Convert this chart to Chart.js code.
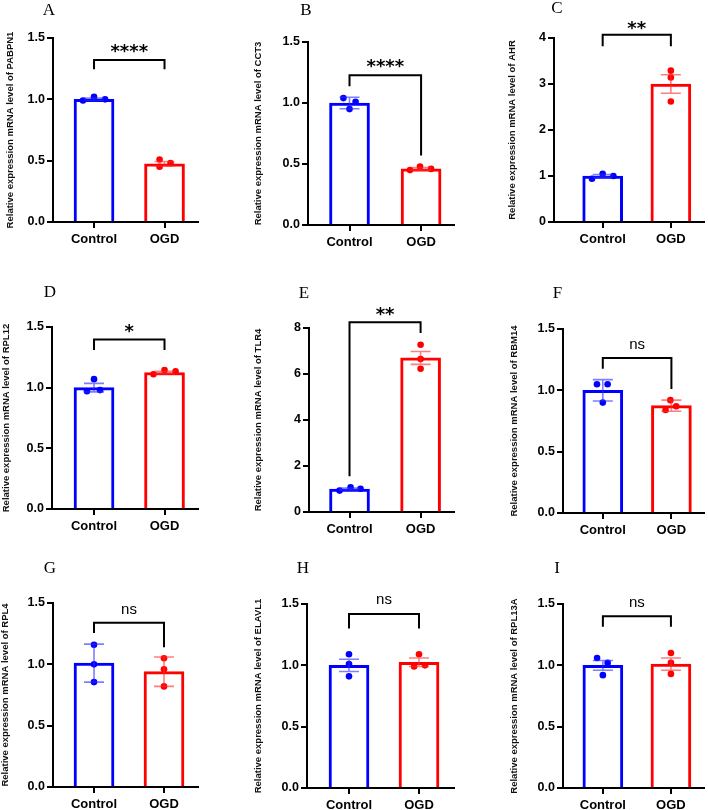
<!DOCTYPE html>
<html>
<head>
<meta charset="utf-8">
<script src="https://cdn.jsdelivr.net/npm/chart.js@4.4.1/dist/chart.umd.min.js"></script>
<style>
  html, body { margin: 0; padding: 0; background: #fff; overflow: hidden; }
  #grid { position: relative; width: 708px; height: 810px; }
  .cell { position: absolute; width: 236px; height: 270px; }
</style>
</head>
<body>
<div id="grid"></div>
<script>
// values
const panelLetters = ['A', 'B', 'C', 'D', 'E', 'F', 'G', 'H', 'I'];
const genes = ['PABPN1', 'CCT3', 'AHR', 'RPL12', 'TLR4', 'RBM14', 'RPL4', 'ELAVL1', 'RPL13A'];
const categories = ['Control', 'OGD'];
const controlMean = [1.0, 1.0, 1.0, 1.0, 1.0, 1.0, 1.01, 1.0, 1.0];
const ogdMean = [0.475, 0.46, 3.0, 1.125, 6.7, 0.875, 0.94, 1.025, 1.01];
const controlErr = [0.01, 0.047, 0.03, 0.035, 0.04, 0.087, 0.155, 0.05, 0.04];
const ogdErr = [0.018, 0.01, 0.2, 0.01, 0.28, 0.045, 0.12, 0.035, 0.05];
const controlPoints = [
  [0.99, 1.02, 1.0], [1.04, 1.01, 0.95], [0.94, 1.05, 1.0],
  [1.07, 0.97, 0.98], [0.93, 1.07, 1.01], [1.05, 1.05, 0.9],
  [1.16, 1.0, 0.855], [1.09, 1.01, 0.91], [1.06, 1.02, 0.92]
];
const ogdPoints = [
  [0.51, 0.45, 0.48], [0.45, 0.48, 0.46], [3.29, 3.14, 2.62],
  [1.11, 1.145, 1.135], [7.27, 6.65, 6.23], [0.92, 0.84, 0.87],
  [1.05, 0.96, 0.82], [1.09, 0.99, 1.0], [1.10, 1.02, 0.93]
];
const yMax = [1.5, 1.5, 4, 1.5, 8, 1.5, 1.5, 1.5, 1.5];
const yStep = [0.5, 0.5, 1, 0.5, 2, 0.5, 0.5, 0.5, 0.5];
const sigLabels = ['****', '****', '**', '*', '**', 'ns', 'ns', 'ns', 'ns'];
const bracketTop = [1.32, 1.227, 4.07, 1.396, 8.25, 1.263, 1.338, 1.418, 1.40];
const bracketLeftEnd = [1.245, 1.137, 3.82, 1.31, 1.55, 1.175, 1.256, 1.30, 1.315];
const bracketRightEnd = [1.245, 0.57, 3.82, 1.31, 7.78, 1.01, 1.14, 1.30, 1.315];
const sigLabelY = [1.42, 1.33, 4.29, 1.50, 8.77, 1.37, 1.44, 1.53, 1.51];

// layout of each panel (px inside its 236x270 cell)
const boxes = [
  {cx: 0,   cy: 0,   l: 53, t: 38, r: 198, b: 222, xMin: -0.582, xMax: 1.475, titleX: 10, lx: 49,   ly: 11},
  {cx: 236, cy: 0,   l: 72, t: 42, r: 218, b: 225, xMin: -0.58,  xMax: 1.46,  titleX: 22, lx: 70,   ly: 11},
  {cx: 472, cy: 0,   l: 82, t: 38, r: 236, b: 222, xMin: -0.714, xMax: 1.486, titleX: 40, lx: 85,   ly: 9},
  {cx: 0,   cy: 270, l: 52, t: 57, r: 198, b: 239, xMin: -0.596, xMax: 1.475, titleX: 6,  lx: 50,   ly: 23},
  {cx: 236, cy: 270, l: 73, t: 58, r: 218, b: 242, xMin: -0.57,  xMax: 1.47,  titleX: 22, lx: 68,   ly: 24},
  {cx: 472, cy: 270, l: 91, t: 59, r: 236, b: 243, xMin: -0.58,  xMax: 1.475, titleX: 42, lx: 85.5, ly: 24},
  {cx: 0,   cy: 540, l: 53, t: 63, r: 198, b: 247, xMin: -0.586, xMax: 1.486, titleX: 5,  lx: 50,   ly: 29},
  {cx: 236, cy: 540, l: 71, t: 64, r: 218, b: 248, xMin: -0.6,   xMax: 1.5,   titleX: 22, lx: 67,   ly: 29},
  {cx: 472, cy: 540, l: 91, t: 64, r: 236, b: 248, xMin: -0.586, xMax: 1.486, titleX: 42, lx: 85,   ly: 29}
];
// horizontal scatter of the dots, in category units
const jitter = [
  [[-0.157, 0, 0.157], [-0.07, -0.07, 0.085]],
  [[-0.085, 0.085, 0], [-0.155, -0.015, 0.14]],
  [[-0.157, 0, 0.157], [0, 0, 0]],
  [[0, -0.1, 0.085], [-0.157, 0, 0.157]],
  [[-0.14, 0.015, 0.155], [0, 0, 0]],
  [[-0.085, 0.07, 0], [-0.015, -0.085, 0.07]],
  [[0, 0, 0], [0, 0, 0]],
  [[0, 0, 0], [0, -0.07, 0.085]],
  [[-0.085, 0.07, 0], [0, 0, 0]]
];

const BLUE = '#0000ff';
const RED = '#ff0000';
const FONT = 'Arial, "Liberation Sans", sans-serif';
Chart.defaults.font.family = FONT;
Chart.defaults.color = '#000';

function panelPlugin(i) {
  const box = boxes[i];
  return {
    id: 'panel' + i,
    afterDatasetsDraw(chart) {
      const ctx = chart.ctx;
      const xs = chart.scales.x, ys = chart.scales.y;
      const means = [controlMean[i], ogdMean[i]];
      const errs = [controlErr[i], ogdErr[i]];
      const cols = ['rgba(40,40,255,0.6)', 'rgba(255,40,40,0.6)'];
      ctx.save();
      ctx.lineWidth = 1.6;
      for (let g = 0; g < 2; g++) {
        const x = xs.getPixelForValue(g);
        const y1 = ys.getPixelForValue(means[g] + errs[g]);
        const y2 = ys.getPixelForValue(means[g] - errs[g]);
        ctx.strokeStyle = cols[g];
        ctx.beginPath();
        ctx.moveTo(x, y1); ctx.lineTo(x, y2);
        ctx.moveTo(x - 10, y1); ctx.lineTo(x + 10, y1);
        ctx.moveTo(x - 10, y2); ctx.lineTo(x + 10, y2);
        ctx.stroke();
      }
      ctx.restore();
    },
    afterDraw(chart) {
      const ctx = chart.ctx;
      const xs = chart.scales.x, ys = chart.scales.y;
      const x0 = xs.getPixelForValue(0), x1 = xs.getPixelForValue(1);
      ctx.save();
      // significance bracket
      ctx.strokeStyle = '#000';
      ctx.lineWidth = 2;
      ctx.beginPath();
      ctx.moveTo(x0, ys.getPixelForValue(bracketLeftEnd[i]));
      ctx.lineTo(x0, ys.getPixelForValue(bracketTop[i]));
      ctx.lineTo(x1, ys.getPixelForValue(bracketTop[i]));
      ctx.lineTo(x1, ys.getPixelForValue(bracketRightEnd[i]));
      ctx.stroke();
      // significance label
      const lab = sigLabels[i];
      const ly = ys.getPixelForValue(sigLabelY[i]);
      ctx.fillStyle = '#000';
      ctx.textAlign = 'center';
      ctx.textBaseline = 'alphabetic';
      if (lab === 'ns') {
        ctx.font = '15px ' + FONT;
        ctx.fillText(lab, (x0 + x1) / 2, ly + 4);
      } else {
        ctx.font = 'bold 18px "DejaVu Sans", sans-serif';
        ctx.fillText(lab, (x0 + x1) / 2, ly + 9.5);
      }
      // y axis title
      const area = chart.chartArea;
      ctx.translate(box.titleX, (area.top + area.bottom) / 2);
      ctx.rotate(-Math.PI / 2);
      ctx.font = 'bold 9.5px ' + FONT;
      ctx.fillStyle = '#111';
      ctx.textBaseline = 'middle';
      ctx.fillText('Relative expression mRNA level of ' + genes[i], 0, 0);
      ctx.setTransform(1, 0, 0, 1, 0, 0);
      // panel letter
      ctx.font = '17px "Liberation Serif", "Times New Roman", serif';
      ctx.fillStyle = '#000';
      ctx.textBaseline = 'middle';
      ctx.fillText(panelLetters[i], box.lx, box.ly);
      ctx.restore();
    }
  };
}

const grid = document.getElementById('grid');

for (let i = 0; i < 9; i++) {
  const box = boxes[i];
  const cell = document.createElement('div');
  cell.className = 'cell';
  cell.style.left = box.cx + 'px';
  cell.style.top = box.cy + 'px';
  const canvas = document.createElement('canvas');
  canvas.width = 236;
  canvas.height = 270;
  cell.appendChild(canvas);
  grid.appendChild(cell);

  new Chart(canvas, {
    type: 'bar',
    data: {
      datasets: [
        {
          type: 'scatter',
          data: controlPoints[i].map((v, k) => ({x: 0 + jitter[i][0][k], y: v})),
          pointRadius: 3.3,
          pointBackgroundColor: BLUE,
          pointBorderWidth: 0,
          order: 0
        },
        {
          type: 'scatter',
          data: ogdPoints[i].map((v, k) => ({x: 1 + jitter[i][1][k], y: v})),
          pointRadius: 3.3,
          pointBackgroundColor: RED,
          pointBorderWidth: 0,
          order: 0
        },
        {
          type: 'bar',
          data: [{x: 0, y: controlMean[i]}, {x: 1, y: ogdMean[i]}],
          backgroundColor: '#ffffff',
          borderColor: [BLUE, RED],
          borderWidth: 3,
          borderSkipped: 'start',
          barThickness: 40,
          order: 1
        }
      ]
    },
    options: {
      responsive: false,
      animation: false,
      devicePixelRatio: 1,
      layout: {
        padding: {left: 0, top: box.t, right: 236 - box.r, bottom: 0}
      },
      plugins: {
        legend: {display: false},
        tooltip: {enabled: false}
      },
      scales: {
        x: {
          type: 'linear',
          offset: false,
          min: box.xMin,
          max: box.xMax,
          afterBuildTicks: s => { s.ticks = [{value: 0}, {value: 1}]; },
          afterFit: s => { s.height = 270 - box.b; },
          ticks: {
            callback: v => categories[v],
            font: {size: 13, weight: 'bold'},
            color: '#000',
            padding: 4,
            maxRotation: 0,
            autoSkip: false
          },
          grid: {offset: false, drawOnChartArea: false, color: '#000', lineWidth: 2, tickLength: 6},
          border: {color: '#000', width: 2}
        },
        y: {
          min: 0,
          max: yMax[i],
          afterFit: s => { s.width = box.l; },
          ticks: {
            stepSize: yStep[i],
            callback: v => yStep[i] < 1 ? v.toFixed(1) : String(v),
            font: {size: 12.5, weight: 'bold'},
            color: '#000',
            padding: 2
          },
          grid: {drawOnChartArea: false, color: '#000', lineWidth: 2, tickLength: 6},
          border: {color: '#000', width: 2}
        }
      }
    },
    plugins: [panelPlugin(i)]
  });
}
</script>
</body>
</html>
